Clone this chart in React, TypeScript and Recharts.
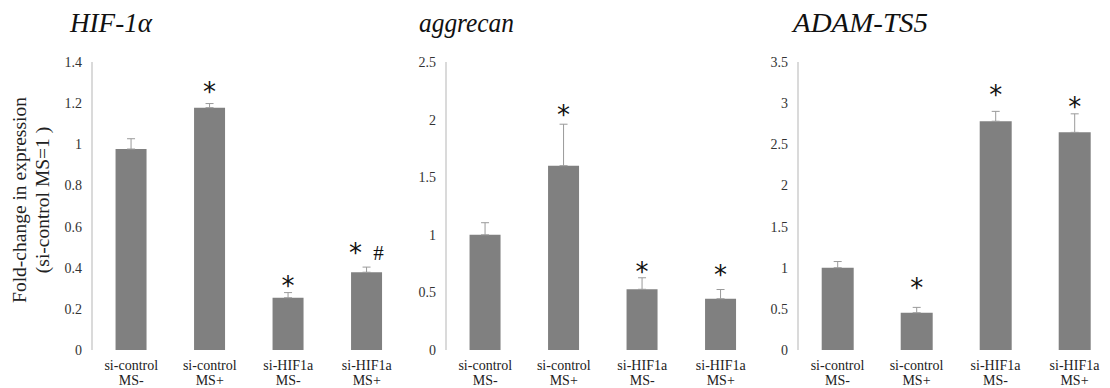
import React from 'react';
import { BarChart, Bar, XAxis, YAxis, ErrorBar, LabelList } from 'recharts';

const catLine1 = ['si-control', 'si-control', 'si-HIF1a', 'si-HIF1a'];
const catLine2 = ['MS-', 'MS+', 'MS-', 'MS+'];

const hifValues = [0.977, 1.178, 0.254, 0.378];
const hifErr = [0.05, 0.02, 0.025, 0.025];
const hifMarks = ['', '*', '*', '*#'];
const hifMarkLevel = [0, 1.28, 0.335, 0.498];
const hifTicks = [0, 0.2, 0.4, 0.6, 0.8, 1, 1.2, 1.4];

const aggValues = [1.0, 1.6, 0.527, 0.445];
const aggErr = [0.105, 0.36, 0.1, 0.08];
const aggMarks = ['', '*', '*', '*'];
const aggMarkLevel = [0, 2.083, 0.72, 0.694];
const aggTicks = [0, 0.5, 1, 1.5, 2, 2.5];

const adamValues = [1.0, 0.453, 2.78, 2.645];
const adamErr = [0.075, 0.065, 0.12, 0.225];
const adamMarks = ['', '*', '*', '*'];
const adamMarkLevel = [0, 0.814, 3.16, 3.014];
const adamTicks = [0, 0.5, 1, 1.5, 2, 2.5, 3, 3.5];

const bandTicks = [0, 1, 2, 3, 4];

const SERIF = '"Liberation Serif", "Times New Roman", serif';
const SANS = '"DejaVu Sans", sans-serif';
const AXIS = '#b5b5b5';

const build = (values: number[], err: number[], marks: string[], levels: number[]) =>
  values.map((v, i) => ({
    name: catLine1[i] + '\n' + catLine2[i],
    value: v,
    err: [0, err[i]],
    mark: marks[i],
    level: levels[i],
  }));

// two-line category label
const CatTick = (props: any) => {
  const { x, y, payload } = props;
  const [l1, l2] = String(payload.value).split('\n');
  return (
    <text x={x} y={y + 19.5} textAnchor="middle" style={{ fontFamily: SERIF, fontSize: 14 }} fill="#222">
      <tspan x={x}>{l1}</tspan>
      <tspan x={x} dy={15.5}>{l2}</tspan>
    </text>
  );
};

const makeMark = (rows: any[]) => (props: any) => {
  const { x, y, width, height, index } = props;
  const row = rows[index];
  if (!row || !row.mark) return null;
  const base = y + height;
  const cy = base - (row.level * height) / row.value;
  const cx = x + width / 2;
  const star = { fontFamily: SANS, fontSize: 26 };
  if (row.mark === '*#') {
    return (
      <g>
        <text x={cx - 11} y={cy + 14} textAnchor="middle" style={star} fill="#111">*</text>
        <text x={cx + 12} y={cy + 12} textAnchor="middle" style={{ fontFamily: SERIF, fontSize: 21 }} fill="#111">#</text>
      </g>
    );
  }
  return (
    <text x={cx} y={cy + 14} textAnchor="middle" style={star} fill="#111">*</text>
  );
};

interface PanelProps {
  left: number;
  width: number;
  yWidth: number;
  rows: any[];
  max: number;
  ticks: number[];
}

const Panel: React.FC<PanelProps> = ({ left, width, yWidth, rows, max, ticks }) => (
  <div style={{ position: 'absolute', left, top: 0 }}>
    <BarChart width={width} height={388} data={rows} margin={{ top: 62, right: 0, left: 0, bottom: 0 }} barCategoryGap="30%">
      <XAxis xAxisId="band" type="number" domain={[0, 4]} ticks={bandTicks} allowDataOverflow height={0}
        tick={false} tickSize={4} stroke={AXIS} axisLine={{ stroke: AXIS }} tickLine={{ stroke: AXIS }} />
      <XAxis xAxisId="cat" dataKey="name" height={38} axisLine={false} tickLine={false} tickSize={0} tickMargin={0}
        tick={<CatTick />} interval={0} />
      <YAxis width={yWidth} domain={[0, max]} ticks={ticks} allowDataOverflow tickLine={false} tickSize={6} tickMargin={4}
        axisLine={{ stroke: AXIS }} tick={{ fontFamily: SERIF, fontSize: 14, fill: '#333', style: { fontFamily: SERIF } }} />
      <Bar xAxisId="cat" dataKey="value" fill="#808080" isAnimationActive={false}>
        <ErrorBar dataKey="err" direction="y" width={4} stroke="#9a9a9a" strokeWidth={1} />
        <LabelList dataKey="value" content={makeMark(rows)} />
      </Bar>
    </BarChart>
  </div>
);

const hifRows = build(hifValues, hifErr, hifMarks, hifMarkLevel);
const aggRows = build(aggValues, aggErr, aggMarks, aggMarkLevel);
const adamRows = build(adamValues, adamErr, adamMarks, adamMarkLevel);

const titleStyle = { fontFamily: SERIF, fontStyle: 'italic' as const, fontSize: 28 };

export default function App() {
  return (
    <div style={{ position: 'absolute', left: 0, top: 0, width: 1110, height: 388, overflow: 'hidden', background: '#fff' }}>
      <Panel left={0} width={406} yWidth={92} rows={hifRows} max={1.4} ticks={hifTicks} />
      <Panel left={410} width={350} yWidth={36} rows={aggRows} max={2.5} ticks={aggTicks} />
      <Panel left={764} width={350} yWidth={34} rows={adamRows} max={3.5} ticks={adamTicks} />
      <svg width={1110} height={388} style={{ position: 'absolute', left: 0, top: 0, pointerEvents: 'none' }}>
        <text x={70} y={32} style={titleStyle} textLength={82} lengthAdjust="spacingAndGlyphs" fill="#111">HIF-1α</text>
        <text x={419} y={32} style={titleStyle} textLength={95} lengthAdjust="spacingAndGlyphs" fill="#111">aggrecan</text>
        <text x={793} y={32} style={titleStyle} textLength={135} lengthAdjust="spacingAndGlyphs" fill="#111">ADAM-TS5</text>
        <text transform="translate(26,200) rotate(-90)" textAnchor="middle" style={{ fontFamily: SERIF, fontSize: 19.5 }} fill="#222">Fold-change in expression</text>
        <text transform="translate(49,200) rotate(-90)" textAnchor="middle" style={{ fontFamily: SERIF, fontSize: 19.5 }} fill="#222">(si-control MS=1 )</text>
      </svg>
    </div>
  );
}
